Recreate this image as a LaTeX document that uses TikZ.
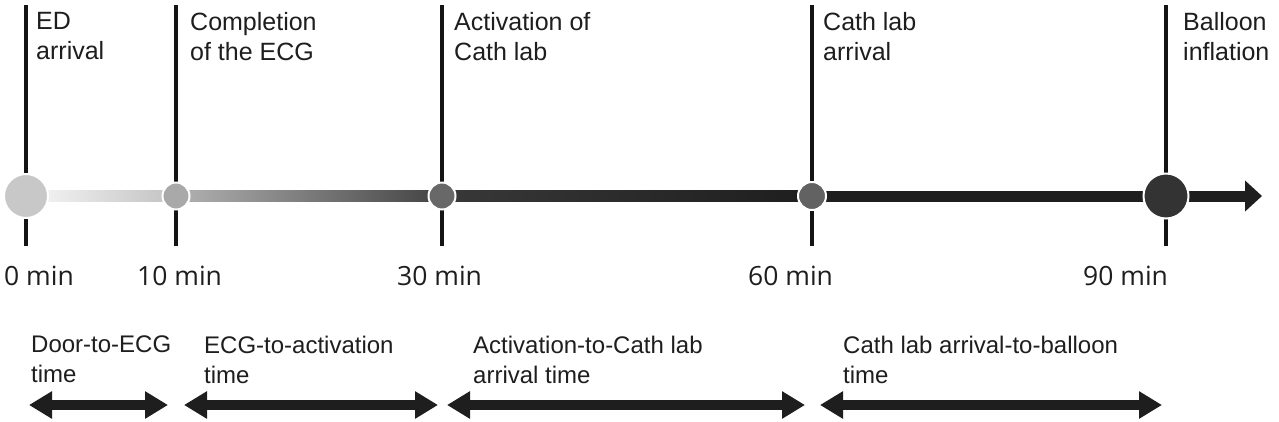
\documentclass[tikz,border=0pt]{standalone}
\usepackage{fontspec}
\setmainfont{Liberation Sans}
\newfontfamily\minfont{Open Sans}
\usetikzlibrary{arrows.meta,calc}
\definecolor{inkdark}{RGB}{30,30,30}
\definecolor{dotA}{RGB}{200,200,200}
\definecolor{dotB}{RGB}{169,169,169}
\definecolor{dotC}{RGB}{104,104,104}
\definecolor{dotD}{RGB}{98,98,98}
\definecolor{dotE}{RGB}{51,51,51}

\begin{document}
\begin{tikzpicture}[
x=1pt,y=-1pt,
tick/.style={draw=black!92,line width=3.2pt},
dot/.style={circle,draw=white,line width=2pt,inner sep=0pt},
bar/.style={line width=11pt,draw=inkdark},
event/.style={anchor=north west,inner sep=0pt,align=left,text=inkdark,font=\fontsize{25}{30}\selectfont},
minute/.style={anchor=base west,inner sep=0pt,text=inkdark,font=\minfont\fontsize{26.5}{32}\selectfont},
phase/.style={anchor=north west,inner sep=0pt,align=left,text=inkdark,font=\fontsize{24}{30}\selectfont},
span/.style={{Triangle[length=23pt,width=26pt]}-{Triangle[length=23pt,width=26pt]},line width=10pt,draw=inkdark}
]
\fill[white] (0,0) rectangle (1279,421);
\useasboundingbox (0,0) rectangle (1279,421);
% timeline positions
\coordinate (t0) at (26,196);
\coordinate (t10) at (176,196);
\coordinate (t30) at (442,196);
\coordinate (t60) at (812,196);
\coordinate (t90) at (1166,196);
\coordinate (tip) at (1262,196);
% ticks
\draw[tick] ($(t0)+(0,-191)$)--($(t0)+(0,50)$);
\draw[tick] ($(t10)+(0,-191)$)--($(t10)+(0,50)$);
\draw[tick] ($(t30)+(0,-191)$)--($(t30)+(0,50)$);
\draw[tick] ($(t60)+(0,-191)$)--($(t60)+(0,50)$);
\draw[tick] ($(t90)+(0,-191)$)--($(t90)+(0,50)$);
% bar
\shade[left color=black!3,right color=black!24] ($(t0)+(0,-5.5)$) rectangle ($(t10)+(0,5.5)$);
\shade[left color=black!30,right color=black!74] ($(t10)+(0,-5.5)$) rectangle ($(t30)+(0,5.5)$);
\shade[left color=black!78,right color=inkdark] ($(t30)+(0,-5.5)$) rectangle ($(t60)+(0,5.5)$);
\draw[bar] (t60)--(t90);
\draw[bar,-{Triangle[length=17pt,width=30pt]}] (t90)--(tip);
% dots
\node[dot,fill=dotA,minimum size=44pt] (d0) at (t0) {};
\node[dot,fill=dotB,minimum size=27pt] (d10) at (t10) {};
\node[dot,fill=dotC,minimum size=27pt] (d30) at (t30) {};
\node[dot,fill=dotD,minimum size=28pt] (d60) at (t60) {};
\node[dot,fill=dotE,minimum size=45pt] (d90) at (t90) {};
% events
\node[event] (ed) at (36,12) {ED\\arrival};
\node[event] (ecg) at (190,12) {Completion\\of the ECG};
\node[event] (act) at (454,12) {Activation of\\Cath lab};
\node[event] (lab) at (823,12) {Cath lab\\arrival};
\node[event] (balloon) at (1183,12) {Balloon\\inflation};
% minutes
\node[minute] (m0) at (4,285) {0 min};
\node[minute] (m10) at (137,285) {10 min};
\node[minute] (m30) at (397,285) {30 min};
\node[minute] (m60) at (748,285) {60 min};
\node[minute] (m90) at (1083,285) {90 min};
% phases
\node[phase] (p1) at (31,336) {Door-to-ECG\\time};
\node[phase] (p2) at (204,336) {ECG-to-activation\\time};
\node[phase] (p3) at (473,336) {Activation-to-Cath lab\\arrival time};
\node[phase] (p4) at (843,336) {Cath lab arrival-to-balloon\\time};
\coordinate (s1a) at (29,405);
\coordinate (s1b) at (168,405);
\coordinate (s2a) at (184,405);
\coordinate (s2b) at (438,405);
\coordinate (s3a) at (447,405);
\coordinate (s3b) at (805,405);
\coordinate (s4a) at (820,405);
\coordinate (s4b) at (1162,405);
\draw[span] (s1a)--(s1b);
\draw[span] (s2a)--(s2b);
\draw[span] (s3a)--(s3b);
\draw[span] (s4a)--(s4b);
\end{tikzpicture}
\end{document}
